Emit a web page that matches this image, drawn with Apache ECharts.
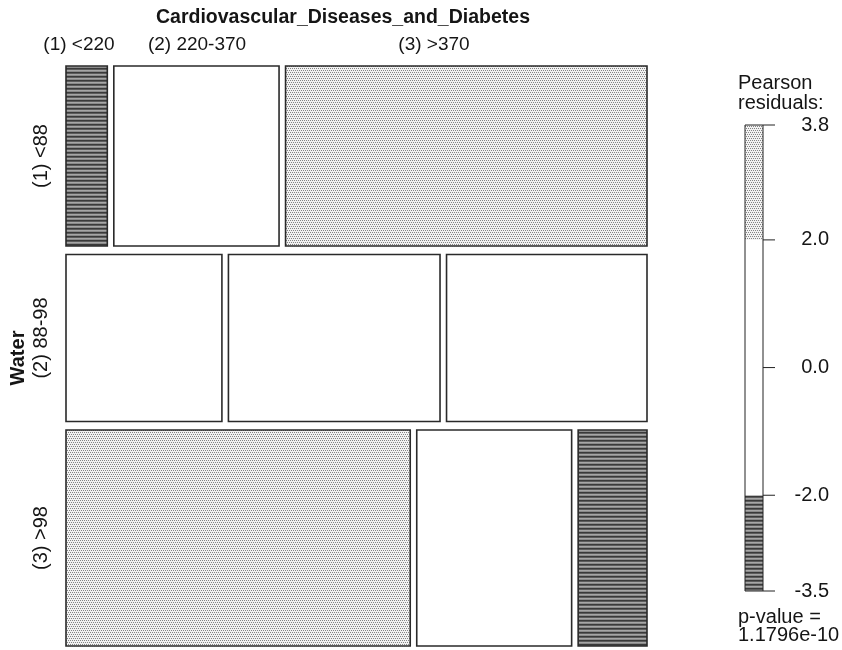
<!DOCTYPE html>
<html>
<head>
<meta charset="utf-8">
<script src="https://cdn.jsdelivr.net/npm/echarts@6/dist/echarts.min.js"></script>
<style>
  html, body { margin: 0; padding: 0; background: #ffffff; }
  #chart { width: 842px; height: 650px; }
</style>
</head>
<body>
<div id="chart"></div>
<script>
// Water (rows) by Cardiovascular_Diseases_and_Diabetes (columns)
const waterLevels = ['(1) <88', '(2) 88-98', '(3) >98'];
const cardioLevels = ['(1) <220', '(2) 220-370', '(3) >370'];
const countsWaterLow = [4, 16, 35];   // Water (1) <88
const countsWaterMid = [14, 19, 18];  // Water (2) 88-98
const countsWaterHigh = [40, 18, 8];  // Water (3) >98

// Shading legend
const legendTicks = [3.8, 2.0, 0.0, -2.0, -3.5];
const shadeBreaks = [-3.5, -2.0, 2.0, 3.8];
const pValueText = '1.1796e-10';

const FONT = '"Liberation Sans", Arial, Helvetica, sans-serif';
const INK = '#151515';

// ---- fill patterns ----
function dotPattern() {
  const c = document.createElement('canvas');
  c.width = 4; c.height = 4;
  const g = c.getContext('2d');
  g.fillStyle = '#f2f2f2'; g.fillRect(0, 0, 4, 4);
  g.fillStyle = '#848484';
  [[0, 0], [2, 0], [1, 2], [3, 2]].forEach(p => g.fillRect(p[0], p[1], 1, 1));
  return c;
}
function hatchPattern() {
  const c = document.createElement('canvas');
  c.width = 4; c.height = 4;
  const g = c.getContext('2d');
  const rowsCol = ['#3a3a3a', '#5c5c5c', '#a6a6a6', '#8a8a8a'];
  rowsCol.forEach((col, i) => { g.fillStyle = col; g.fillRect(0, i, 4, 1); });
  return c;
}
const DOTS = { image: dotPattern(), repeat: 'repeat' };
const HATCH = { image: hatchPattern(), repeat: 'repeat' };

function fillFor(r) {
  if (r > 2) return DOTS;
  if (r < -2) return HATCH;
  return '#ffffff';
}

// ---- mosaic geometry (unit square, y downward) ----
const table = [countsWaterLow, countsWaterMid, countsWaterHigh];
const sum = a => a.reduce((s, v) => s + v, 0);
const rowTot = table.map(sum);
const N = sum(rowTot);
const colTot = cardioLevels.map((_, j) => sum(table.map(r => r[j])));
const GAP_X = 0.0112;  // spacing between tiles within a row
const GAP_Y = 0.0147;  // spacing between rows

const tiles = [];
const rowCenters = [];
let yPos = 0;
table.forEach((row, i) => {
  const h = rowTot[i] / N * (1 - 2 * GAP_Y);
  let xPos = 0;
  row.forEach((c, j) => {
    const w = c / rowTot[i] * (1 - 2 * GAP_X);
    const e = rowTot[i] * colTot[j] / N;
    const resid = (c - e) / Math.sqrt(e);
    tiles.push([xPos, xPos + w, yPos, yPos + h, resid]);
    xPos += w + GAP_X;
  });
  rowCenters.push(yPos + h / 2);
  yPos += h + GAP_Y;
});

// legend bands: [low, high, representative residual]
const bands = [];
for (let k = 0; k < shadeBreaks.length - 1; k++) {
  const lo = shadeBreaks[k], hi = shadeBreaks[k + 1];
  bands.push([lo, hi, (lo + hi) / 2]);
}

const chart = echarts.init(document.getElementById('chart'), null, { renderer: 'canvas' });

const hiddenAxis = { show: false, axisLine: { show: false }, axisTick: { show: false }, axisLabel: { show: false }, splitLine: { show: false } };

chart.setOption({
  animation: false,
  backgroundColor: '#ffffff',
  grid: [
    { left: 66, top: 66, width: 581, height: 580 },
    { left: 745, top: 125, width: 18, height: 466 }
  ],
  xAxis: [
    Object.assign({ type: 'value', gridIndex: 0, min: 0, max: 1 }, hiddenAxis),
    Object.assign({ type: 'value', gridIndex: 1, min: 0, max: 1 }, hiddenAxis)
  ],
  yAxis: [
    Object.assign({ type: 'value', gridIndex: 0, min: 0, max: 1, inverse: true }, hiddenAxis),
    {
      type: 'value', gridIndex: 1, position: 'right',
      min: shadeBreaks[0], max: shadeBreaks[shadeBreaks.length - 1],
      axisLine: { show: false },
      splitLine: { show: false },
      axisTick: { show: false },
      axisLabel: {
        show: true, customValues: legendTicks, margin: 66, align: 'right',
        formatter: v => Number(v).toFixed(1),
        fontFamily: FONT, fontSize: 20, color: INK
      }
    }
  ],
  series: [
    {
      type: 'custom',
      xAxisIndex: 0, yAxisIndex: 0,
      data: tiles,
      encode: { x: [0, 1], y: [2, 3] },
      renderItem: (params, api) => {
        const p0 = api.coord([api.value(0), api.value(2)]);
        const p1 = api.coord([api.value(1), api.value(3)]);
        return {
          type: 'rect',
          shape: { x: p0[0], y: p0[1], width: p1[0] - p0[0], height: p1[1] - p0[1] },
          style: { fill: fillFor(api.value(4)), stroke: '#2a2a2a', lineWidth: 1.6 }
        };
      }
    },
    {
      type: 'custom',
      xAxisIndex: 1, yAxisIndex: 1,
      data: bands,
      encode: { y: [0, 1] },
      renderItem: (params, api) => {
        const top = api.coord([0, api.value(1)]);
        const bot = api.coord([1, api.value(0)]);
        return {
          type: 'rect',
          shape: { x: top[0], y: top[1], width: bot[0] - top[0], height: bot[1] - top[1] },
          style: { fill: fillFor(api.value(2)), stroke: null }
        };
      }
    },
    {
      // outline of the legend bar
      type: 'custom',
      xAxisIndex: 1, yAxisIndex: 1,
      data: [[shadeBreaks[0], shadeBreaks[shadeBreaks.length - 1]]],
      encode: { y: [0, 1] },
      renderItem: (params, api) => {
        const top = api.coord([0, api.value(1)]);
        const bot = api.coord([1, api.value(0)]);
        return {
          type: 'rect',
          shape: { x: top[0], y: top[1], width: bot[0] - top[0], height: bot[1] - top[1] },
          style: { fill: 'none', stroke: '#222', lineWidth: 1 }
        };
      }
    },
    {
      // tick marks beside the legend bar
      type: 'custom',
      xAxisIndex: 1, yAxisIndex: 1,
      data: legendTicks.map(v => [1, v]),
      encode: { x: 0, y: 1 },
      renderItem: (params, api) => {
        const p = api.coord([1, api.value(1)]);
        return {
          type: 'line',
          shape: { x1: p[0], y1: p[1], x2: p[0] + 12, y2: p[1] },
          style: { stroke: '#222', lineWidth: 1 }
        };
      }
    }
  ]
});

// ---- text annotations ----
function txt(text, x, y, opts) {
  opts = opts || {};
  return {
    type: 'text', x: x, y: y, rotation: opts.rotation || 0, silent: true,
    style: {
      text: text,
      font: (opts.bold ? 'bold ' : '') + (opts.size || 20) + 'px ' + FONT,
      fill: INK,
      align: opts.align || 'center', textAlign: opts.align || 'center',
      verticalAlign: 'middle', textVerticalAlign: 'middle'
    }
  };
}

const graphics = [];
graphics.push(txt('Cardiovascular_Diseases_and_Diabetes', 343, 18, { bold: true, size: 19.5 }));
const colLabelX = [79, 197, 434];
cardioLevels.forEach((lab, j) => graphics.push(txt(lab, colLabelX[j], 45, { size: 19 })));
waterLevels.forEach((lab, i) => {
  const p = chart.convertToPixel({ gridIndex: 0 }, [0, rowCenters[i]]);
  graphics.push(txt(lab, 41, p[1], { rotation: Math.PI / 2 }));
});
graphics.push(txt('Water', 18, 358, { bold: true, rotation: Math.PI / 2 }));
graphics.push(txt('Pearson', 738, 83, { align: 'left' }));
graphics.push(txt('residuals:', 738, 103, { align: 'left' }));
graphics.push(txt('p-value =', 738, 617, { align: 'left' }));
graphics.push(txt(pValueText, 738, 635, { align: 'left' }));

chart.setOption({ graphic: graphics });
</script>
</body>
</html>
